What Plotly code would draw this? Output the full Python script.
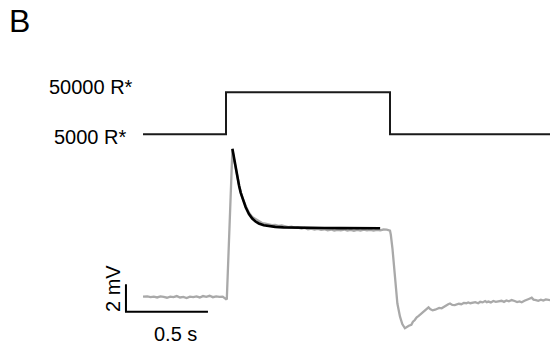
import plotly.graph_objects as go

# ---- data ----
# stimulus (light step, R*)
stim_t = [-0.506, 0.0, 1.0, 1.976]
stim_level = [5000, 50000, 5000, 5000]
stim_labels = ["50000 R*", "5000 R*"]

# recorded response (mV) vs time (s)
resp_t = [-0.506, -0.48, -0.46, -0.44, -0.42, -0.40, -0.38, -0.36, -0.34, -0.32,
          -0.30, -0.28, -0.26, -0.24, -0.22, -0.20, -0.18, -0.16, -0.14, -0.12,
          -0.10, -0.08, -0.06, -0.04, -0.02, 0.00, 0.005, 0.015, 0.025, 0.035, 0.039,
          0.05, 0.06, 0.07, 0.08, 0.09, 0.10, 0.12, 0.14, 0.16, 0.18, 0.20, 0.22,
          0.24, 0.26, 0.28, 0.30, 0.32, 0.34, 0.36, 0.38, 0.40, 0.42, 0.44, 0.46,
          0.48, 0.50, 0.52, 0.54, 0.56, 0.58, 0.60, 0.62, 0.64, 0.66, 0.68, 0.70,
          0.72, 0.74, 0.76, 0.78, 0.80, 0.82, 0.84, 0.86, 0.88, 0.90, 0.92, 0.94,
          0.96, 0.98, 1.00, 1.005, 1.015, 1.03, 1.045, 1.061, 1.075, 1.091, 1.10,
          1.115, 1.13, 1.14, 1.15, 1.163, 1.175, 1.19, 1.20, 1.213, 1.225, 1.235,
          1.245, 1.26, 1.275, 1.29, 1.30, 1.315, 1.33, 1.345, 1.355, 1.366, 1.38,
          1.395, 1.407, 1.42, 1.435, 1.45, 1.465, 1.477, 1.49, 1.505, 1.52, 1.538,
          1.55, 1.565, 1.58, 1.59, 1.60, 1.615, 1.63, 1.645, 1.66, 1.68, 1.695,
          1.71, 1.725, 1.742, 1.76, 1.775, 1.79, 1.803, 1.82, 1.835, 1.85, 1.864,
          1.875, 1.89, 1.904, 1.92, 1.935, 1.95, 1.965, 1.976]
resp_mv = [0.10, 0.12, 0.06, 0.10, 0.04, 0.12, 0.08, 0.02, 0.10, 0.06,
           0.14, 0.04, 0.08, 0.00, 0.10, 0.06, 0.12, 0.04, 0.14, 0.08,
           0.16, 0.06, 0.12, 0.08, 0.10, -0.08, -0.05, 3.0, 6.5, 10.0, 10.8,
           10.0, 9.3, 8.7, 8.2, 7.7, 7.3, 6.7, 6.2, 5.9, 5.75, 5.55, 5.45,
           5.40, 5.35, 5.30, 5.32, 5.25, 5.28, 5.20, 5.15, 5.18, 5.10, 5.12, 5.05,
           5.10, 5.00, 5.05, 4.98, 5.02, 4.95, 5.00, 4.92, 4.98, 4.90, 4.96, 4.93,
           4.98, 4.90, 4.95, 4.88, 4.95, 4.90, 4.97, 4.92, 4.95, 4.90, 4.96, 4.92,
           4.98, 4.97, 4.90, 4.60, 3.60, 1.80, -0.40, -1.36, -1.89, -2.20, -2.12,
           -2.02, -1.95, -1.72, -1.62, -1.40, -1.30, -1.15, -1.08, -0.95, -0.78, -0.68,
           -0.80, -0.90, -0.85, -0.80, -0.72, -0.75, -0.62, -0.55, -0.45, -0.40, -0.50,
           -0.52, -0.48, -0.42, -0.45, -0.36, -0.38, -0.32, -0.38, -0.33, -0.30, -0.38,
           -0.28, -0.32, -0.22, -0.30, -0.26, -0.32, -0.22, -0.28, -0.24, -0.20, -0.28,
           -0.18, -0.24, -0.15, -0.22, -0.30, -0.25, -0.31, -0.20, -0.15, -0.05, 0.02,
           -0.12, -0.15, -0.20, -0.12, -0.18, -0.10, -0.16, -0.15]

# exponential fit (mV) vs time (s)
fit_t = [0.039, 0.05, 0.06, 0.07, 0.08, 0.09, 0.10, 0.12, 0.14, 0.16, 0.18,
         0.20, 0.23, 0.26, 0.30, 0.35, 0.40, 0.50, 0.60, 0.70, 0.80, 0.94]
fit_mv = [10.85, 10.10, 9.35, 8.70, 8.15, 7.65, 7.25, 6.60, 6.10, 5.78, 5.56,
          5.42, 5.29, 5.22, 5.17, 5.14, 5.12, 5.10, 5.09, 5.08, 5.07, 5.07]

# scale bars
bar_t = [-0.61, -0.61, -0.11]
bar_mv = [1.0, -1.0, -1.0]
bar_labels = ["2 mV", "0.5 s"]

FONT = "Liberation Sans, Arial, Helvetica, sans-serif"

fig = go.Figure()
fig.add_trace(go.Scatter(x=stim_t, y=stim_level, mode="lines", yaxis="y2",
                         line=dict(color="#1a1a1a", width=2, shape="hv"),
                         hoverinfo="skip"))
fig.add_trace(go.Scatter(x=resp_t, y=resp_mv, mode="lines",
                         line=dict(color="#a9a9a9", width=2.3),
                         hoverinfo="skip"))
fig.add_trace(go.Scatter(x=fit_t, y=fit_mv, mode="lines",
                         line=dict(color="#000000", width=2.6),
                         hoverinfo="skip"))
fig.add_trace(go.Scatter(x=bar_t, y=bar_mv, mode="lines",
                         line=dict(color="#000000", width=2),
                         hoverinfo="skip"))

annotations = [
    dict(text="B", xref="paper", yref="paper", x=19 / 550, y=1 - 21.5 / 347,
         xanchor="center", yanchor="middle", showarrow=False,
         font=dict(family=FONT, size=32, color="#000")),
    dict(text=stim_labels[0], xref="paper", yref="paper", x=91 / 550,
         y=1 - 87 / 347, xanchor="center", yanchor="middle", showarrow=False,
         font=dict(family=FONT, size=20, color="#000")),
    dict(text=stim_labels[1], xref="paper", yref="paper", x=89.5 / 550,
         y=1 - 137 / 347, xanchor="center", yanchor="middle", showarrow=False,
         font=dict(family=FONT, size=20, color="#000")),
    dict(text=bar_labels[1], xref="paper", yref="paper", x=175 / 550,
         y=1 - 334 / 347, xanchor="center", yanchor="middle", showarrow=False,
         font=dict(family=FONT, size=20, color="#000")),
    dict(text=bar_labels[0], xref="paper", yref="paper", x=113 / 550,
         y=1 - 289 / 347, xanchor="center", yanchor="middle", showarrow=False,
         textangle=-90, font=dict(family=FONT, size=20, color="#000")),
]

fig.update_layout(
    width=550, height=347,
    margin=dict(l=0, r=0, t=0, b=0),
    paper_bgcolor="white", plot_bgcolor="white",
    showlegend=False,
    xaxis=dict(range=[-226 / 164, 324 / 164], visible=False, fixedrange=True),
    yaxis=dict(range=[(298 - 347) / 13.75, 298 / 13.75], visible=False,
               fixedrange=True),
    yaxis2=dict(range=[5000 - 212.7 * 45000 / 42, 5000 + 134.3 * 45000 / 42],
                overlaying="y", visible=False, fixedrange=True),
    annotations=annotations,
)

fig.write_html("out.html", config={"displayModeBar": False},
               post_script="document.body.style.margin='0';"
                           "document.body.style.overflow='hidden';")
